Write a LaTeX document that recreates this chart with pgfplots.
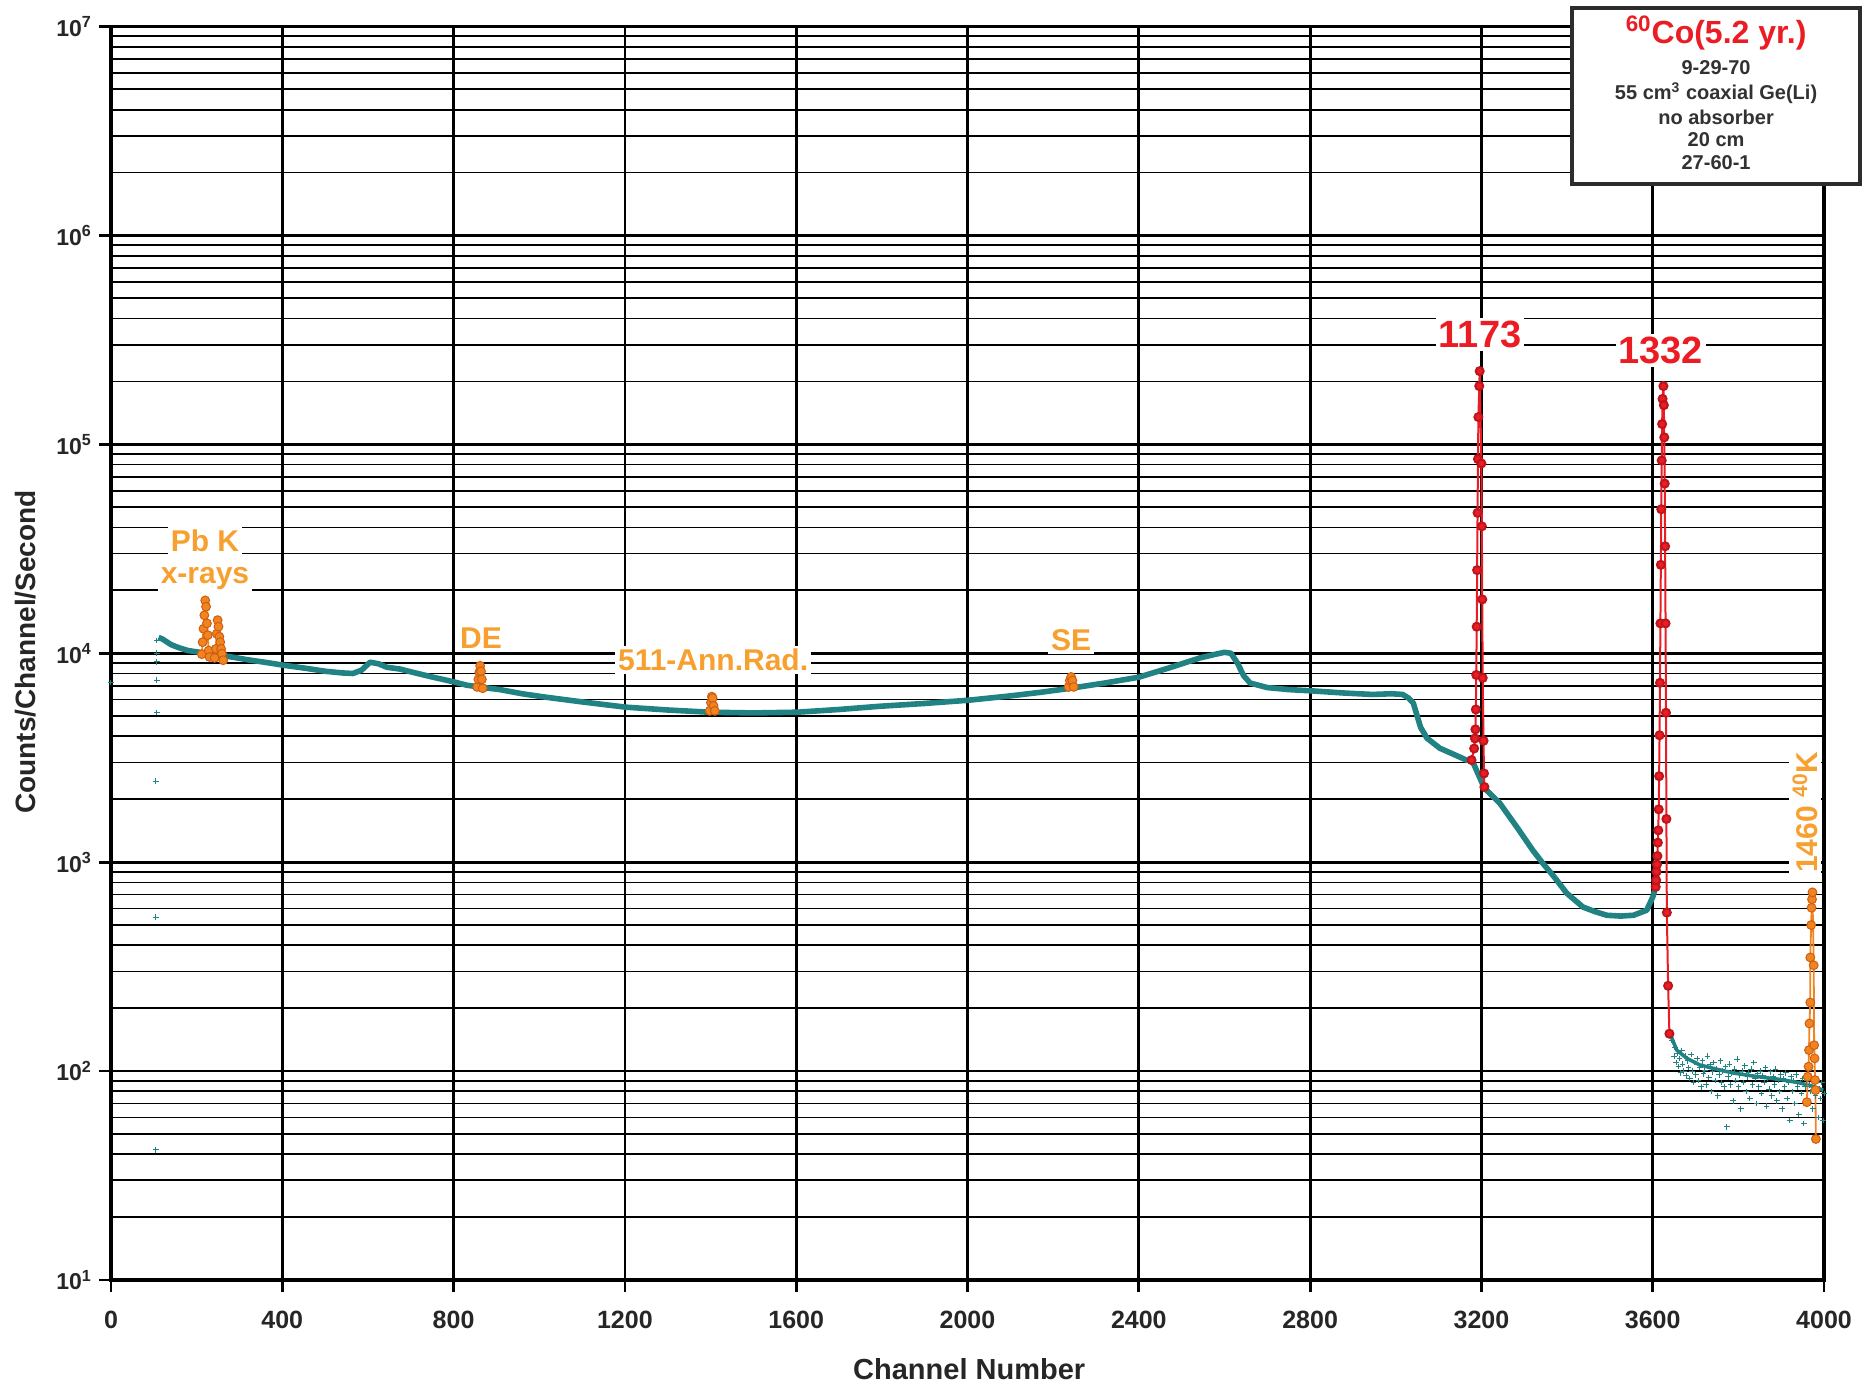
\documentclass[border=0pt]{standalone}
\usepackage{fontspec}
\setmainfont{Liberation Sans}
\usepackage{pgfplots}
\pgfplotsset{compat=1.18}
\definecolor{spec}{RGB}{32,130,130}
\definecolor{pkred}{RGB}{235,28,36}
\definecolor{lblorange}{RGB}{247,160,48}
\definecolor{mkorange}{RGB}{242,132,32}
\definecolor{mkedge}{RGB}{205,95,20}
\definecolor{boxgray}{RGB}{45,45,45}
\definecolor{txtgray}{RGB}{50,50,50}
\begin{document}
\begin{tikzpicture}
\begin{axis}[
 at={(0pt,0pt)}, anchor=south west,
 scale only axis, width=856.5pt, height=626.75pt,
 xmin=0, xmax=4000, ymin=10, ymax=1e7, ymode=log,
 xtick={0,400,800,1200,1600,2000,2400,2800,3200,3600,4000},
 xticklabels={0,400,800,1200,1600,2000,2400,2800,3200,3600,4000},
 ytick={10,100,1000,10000,100000,1000000,10000000},
 yticklabels={10\textsuperscript{1},10\textsuperscript{2},10\textsuperscript{3},10\textsuperscript{4},10\textsuperscript{5},10\textsuperscript{6},10\textsuperscript{7}},
 minor ytick={20,30,40,50,60,70,80,90,200,300,400,500,600,700,800,900,2000,3000,4000,5000,6000,7000,8000,9000,20000,30000,40000,50000,60000,70000,80000,90000,2e5,3e5,4e5,5e5,6e5,7e5,8e5,9e5,2e6,3e6,4e6,5e6,6e6,7e6,8e6,9e6},
 tick pos=left, tick align=outside,
 major tick length=6pt, minor tick length=0pt,
 major tick style={black,line width=1.4pt},
 xmajorgrids, ymajorgrids, yminorgrids,
 major grid style={black,line width=1.4pt},
 minor grid style={black,line width=0.9pt},
 axis line style={black,line width=1.6pt},
 xticklabel style={font=\fontsize{12.5}{14}\selectfont\bfseries, text=black!85, yshift=-6pt},
 yticklabel style={font=\fontsize{11.5}{13}\selectfont\bfseries, text=black!85},
 clip=false,
]
% isolated low-channel points
\addplot[only marks, mark=+, mark size=1.4pt, spec, line width=0.5pt] coordinates {
(0,7240) (107,11500) (107,10000) (107,9100) (107,7430) (107,5200) (105,2440) (105,546) (105,42)
};
% main spectrum part 1
\addplot[spec, line width=2.8pt, line join=round] coordinates {
(111,11900) (120,11700) (140,11000) (160,10600) (180,10300) (208,10100) (240,9900)
(285,9570) (320,9300) (360,9050) (402,8770) (450,8500) (500,8200) (540,8050)
(565,8000) (585,8300) (605,9060) (625,8900) (644,8570) (675,8400) (700,8150)
(752,7680) (800,7300) (831,7030) (870,6850) (908,6700) (960,6400) (1013,6170)
(1100,5850) (1202,5520) (1300,5350) (1398,5220) (1500,5180) (1601,5220)
(1700,5380) (1793,5570) (1900,5750) (2003,5960) (2100,6250) (2170,6500)
(2241,6800) (2320,7200) (2400,7680) (2470,8500) (2543,9500) (2580,9900)
(2600,10100) (2615,10000) (2630,9000) (2645,7800) (2660,7200) (2700,6850)
(2750,6700) (2807,6600) (2880,6450) (2946,6350) (2990,6400) (3016,6350)
(3030,6100) (3041,5770) (3058,4420) (3073,3920) (3103,3510) (3140,3250)
(3165,3080) (3178,3080) (3207,2260) (3243,1915) (3283,1470) (3320,1140)
(3343,990) (3370,850) (3399,711) (3437,610) (3465,580) (3493,557) (3525,552)
(3555,557) (3586,589) (3600,680) (3607,760)
};
% tail
\addplot[spec, line width=1.8pt, line join=round] coordinates {
(3640,152) (3656,126) (3680,115) (3710,107) (3750,102) (3787,98) (3830,95)
(3864,93) (3900,91) (3941,88) (3970,85) (3998,81)
};
\addplot[only marks, mark=+, mark size=1.4pt, spec, line width=0.5pt] coordinates {
(3645,140) (3650,118) (3652,130) (3655,110) (3658,122) (3660,105) (3663,115)
(3665,98) (3668,125) (3670,108) (3673,100) (3676,118) (3678,95) (3681,112)
(3684,104) (3687,92) (3690,120) (3692,100) (3695,88) (3698,110) (3701,96)
(3704,115) (3707,90) (3710,104) (3713,84) (3716,112) (3719,97) (3722,101)
(3725,86) (3728,118) (3731,93) (3734,107) (3737,80) (3740,99) (3743,110)
(3746,90) (3749,103) (3752,76) (3755,96) (3758,112) (3761,88) (3764,100)
(3767,84) (3770,105) (3773,54) (3776,94) (3779,108) (3782,86) (3785,98)
(3788,72) (3791,102) (3794,90) (3797,114) (3800,84) (3803,96) (3806,66)
(3809,100) (3812,88) (3815,106) (3818,80) (3821,94) (3824,98) (3827,74)
(3830,102) (3833,86) (3836,110) (3839,92) (3842,70) (3845,97) (3848,84)
(3851,100) (3854,78) (3857,95) (3860,88) (3863,104) (3866,68) (3869,92)
(3872,82) (3875,99) (3878,76) (3881,94) (3884,86) (3887,102) (3890,72)
(3893,90) (3896,80) (3899,96) (3902,66) (3905,92) (3908,84) (3911,98)
(3914,74) (3917,88) (3920,58) (3923,94) (3926,80) (3929,90) (3932,70)
(3935,96) (3938,84) (3941,62) (3944,88) (3947,78) (3950,92) (3953,56)
(3956,84) (3959,90) (3962,72) (3965,86) (3968,80) (3971,94) (3974,66)
(3977,84) (3980,76) (3983,90) (3986,60) (3989,82) (3992,74) (3995,88)
(3998,58) (4000,78)
};
% 1173 peak
\addplot[pkred, line width=1pt, mark=*, mark size=2pt, mark options={fill=pkred, draw=pkred!80!black}] coordinates {
(3177,3080) (3183,3500) (3185,3910) (3186,4320) (3187,5380) (3188,7870)
(3189,13400) (3190,25000) (3191,47000) (3192,85000) (3193,135000) (3195,190000)
(3196,224000) (3200,81000) (3201,40500) (3202,18100) (3203,7620) (3205,3810)
(3206,2660) (3207,2290)
};
% 1332 peak
\addplot[pkred, line width=1pt, mark=*, mark size=2pt, mark options={fill=pkred, draw=pkred!80!black}] coordinates {
(3607,762) (3608,820) (3609,900) (3610,975) (3611,1070) (3612,1240) (3613,1420)
(3614,1790) (3615,2580) (3616,4050) (3617,7220) (3618,13900) (3619,26500)
(3620,48900) (3621,83700) (3622,125000) (3623,165000) (3625,190000)
(3626,154000) (3627,108000) (3628,64900) (3629,32500) (3630,13900) (3631,5190)
(3632,1610) (3633,574) (3636,256) (3639,151)
};
% orange peaks
\pgfplotsset{orpk/.style={mkorange, line width=0.9pt, mark=*, mark size=2.2pt, mark options={fill=mkorange, draw=mkedge, line width=0.5pt}}}
\addplot[orpk] coordinates {
(212,9900) (214,11300) (216,13100) (218,15200) (220,17900) (222,16700)
(224,13900) (226,12200) (228,10300) (230,9600)
};
\addplot[orpk] coordinates {
(242,9500) (245,10500) (247,12400) (249,14400) (251,13400) (253,12000)
(255,11300) (257,10500) (259,9950) (262,9260)
};
\addplot[orpk] coordinates {
(855,6900) (858,7500) (860,8100) (862,8700) (864,8200) (866,7500) (868,6800)
};
\addplot[orpk] coordinates {
(1398,5300) (1401,5800) (1403,6200) (1405,6100) (1407,5600) (1410,5300)
};
\addplot[orpk] coordinates {
(2236,6900) (2239,7400) (2242,7700) (2245,7400) (2248,6900)
};
\addplot[orpk] coordinates {
(3960,71) (3962,94) (3964,105) (3965,126) (3966,169) (3968,213) (3968,350)
(3970,500) (3971,605) (3972,664) (3973,717) (3976,321) (3977,133) (3978,115)
(3979,90.6) (3980,81) (3981,47.3)
};
% annotations
\tikzset{ann/.style={fill=white, inner sep=1.5pt, font=\fontsize{15}{17}\selectfont\bfseries, text=lblorange}}
\node[ann] at (axis cs:219.5,34700) {Pb K};
\node[ann] at (axis cs:219.5,22900) {x-rays};
\node[ann] at (axis cs:864,11800) {DE};
\node[ann] at (axis cs:1406,9270) {511-Ann.Rad.};
\node[ann] at (axis cs:2242,11500) {SE};
\node[ann, rotate=90] at (axis cs:3956,1735) {1460 \textsuperscript{40}K};
\node[fill=white, inner sep=1.5pt, font=\fontsize{19}{21}\selectfont\bfseries, text=pkred] at (axis cs:3197,336000) {1173};
\node[fill=white, inner sep=1.5pt, font=\fontsize{19}{21}\selectfont\bfseries, text=pkred] at (axis cs:3619,282000) {1332};
% info box
\draw[boxgray, line width=2pt, fill=white] (axis description cs:0.8529,0.8744) rectangle (axis description cs:1.0210,1.0148);
\node[font=\fontsize{16}{18}\selectfont\bfseries, text=pkred] at (axis description cs:0.937,0.9948) {\textsuperscript{60}Co(5.2 yr.)};
\tikzset{inf/.style={font=\fontsize{10}{12}\selectfont\bfseries, text=txtgray, inner sep=0pt}}
\node[inf] at (axis description cs:0.937,0.9669) {9-29-70};
\node[inf] at (axis description cs:0.937,0.9470) {55 cm\textsuperscript{3} coaxial Ge(Li)};
\node[inf] at (axis description cs:0.937,0.9278) {no absorber};
\node[inf] at (axis description cs:0.937,0.9095) {20 cm};
\node[inf] at (axis description cs:0.937,0.8911) {27-60-1};
% axis labels
\node[rotate=90, font=\fontsize{14}{16}\selectfont\bfseries, text=black!85] at (axis description cs:-0.0496,0.501) {Counts/Channel/Second};
\node[font=\fontsize{14.5}{16}\selectfont\bfseries, text=black!85] at (axis description cs:0.501,-0.0714) {Channel Number};
\end{axis}
\pgfresetboundingbox
\useasboundingbox (-55.5pt,-53.5pt) rectangle (880.5pt,640pt);
\end{tikzpicture}
\end{document}
